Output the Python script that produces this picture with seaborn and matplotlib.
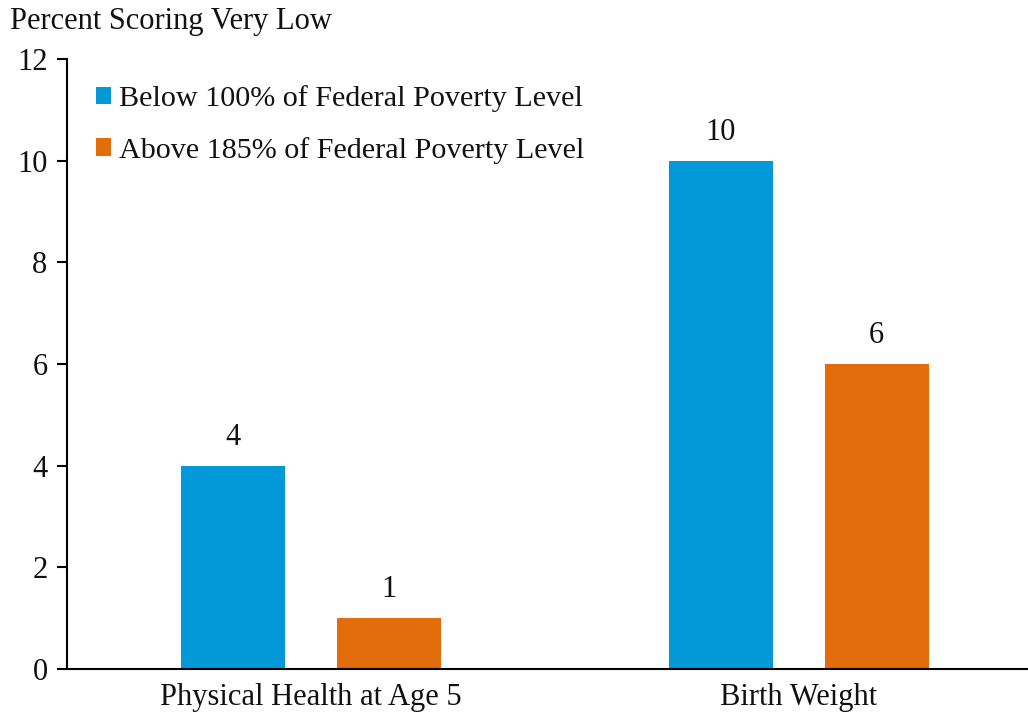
import matplotlib
matplotlib.use("Agg")
import matplotlib.pyplot as plt
import seaborn as sns
import pandas as pd

categories = ["Physical Health at Age 5", "Birth Weight"]
groups = ["Below 100% of Federal Poverty Level", "Above 185% of Federal Poverty Level"]
below_100 = [4, 10]
above_185 = [1, 6]
y_ticks = [0, 2, 4, 6, 8, 10, 12]
y_title = "Percent Scoring Very Low"
palette = ["#0398D8", "#E36C0B"]

df = pd.DataFrame({
    "category": categories * 2,
    "group": [groups[0]] * 2 + [groups[1]] * 2,
    "value": below_100 + above_185,
})

sns.set_theme(style="white")
plt.rcParams["font.family"] = ["Liberation Serif", "DejaVu Serif"]

FS = 22
W, H = 1028, 712
fig = plt.figure(figsize=(W / 100, H / 100), dpi=100)
ax = fig.add_axes([67 / W, (H - 669) / H, (W - 67) / W, (669 - 59) / H])

sns.barplot(data=df, x="category", y="value", hue="group", palette=palette,
            width=0.64, gap=0.333, saturation=1, linewidth=0, ax=ax, errorbar=None)

for cont in ax.containers:
    ax.bar_label(cont, fmt="%g", padding=10, fontsize=FS, color="#111111")

ax.set_xlim(-0.5, 1.47)
ax.set_ylim(0, 12)
ax.set_yticks(y_ticks)
ax.tick_params(axis="y", direction="out", length=7, width=1.5, color="black",
               labelsize=FS, pad=7, left=True, labelcolor="#111111")
ax.tick_params(axis="x", length=0, labelsize=FS, pad=10, labelcolor="#111111")
ax.set_xlabel("")
ax.set_ylabel("")
for side in ["top", "right"]:
    ax.spines[side].set_visible(False)
for side in ["left", "bottom"]:
    ax.spines[side].set_color("black")
    ax.spines[side].set_linewidth(1.5)

leg = ax.legend(loc="upper left", bbox_to_anchor=(0.018, 0.977), frameon=False,
                fontsize=21.7, handlelength=0.5, handleheight=0.5, handletextpad=0.25,
                labelspacing=0.82, borderaxespad=0)
for t in leg.get_texts():
    t.set_color("#111111")

fig.text(10 / W, 1 - 22 / H, y_title, fontsize=FS, va="center", ha="left", color="#111111")

fig.savefig("out.png", dpi=100)
